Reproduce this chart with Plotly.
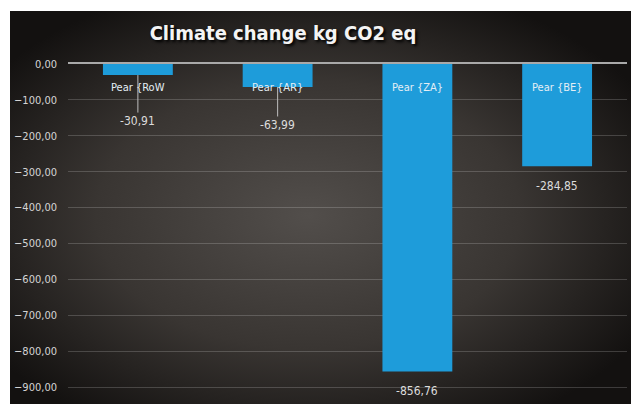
import base64
import plotly.graph_objects as go

categories = ["Pear {RoW", "Pear {AR}", "Pear {ZA}", "Pear {BE}"]
values = [-30.91, -63.99, -856.76, -284.85]
value_labels = ["-30,91", "-63,99", "-856,76", "-284,85"]
tick_vals = [0, -100, -200, -300, -400, -500, -600, -700, -800, -900]

FONT = "DejaVu Sans Condensed, Liberation Sans Narrow, sans-serif"

svg = """<svg xmlns='http://www.w3.org/2000/svg' width='621' height='393' preserveAspectRatio='none'>
<defs><radialGradient id='g' cx='48%' cy='52%' r='62%'>
<stop offset='0%' stop-color='#524e4b'/>
<stop offset='55%' stop-color='#393532'/>
<stop offset='100%' stop-color='#131110'/>
</radialGradient></defs>
<rect width='621' height='393' fill='url(#g)'/></svg>"""
src = "data:image/svg+xml;base64," + base64.b64encode(svg.encode()).decode()

fig = go.Figure()
fig.add_trace(go.Bar(
    x=categories, y=values,
    marker=dict(color="#1e9cda", line=dict(width=0)),
    hoverinfo="skip",
))

W, H = 631, 404
L, R, T, B = 68, 4, 64, 0
pw, ph = W - L - R, H - T - B

# category names near the top of each bar
for c in categories:
    fig.add_annotation(x=c, y=0, yshift=-23, text=c, showarrow=False,
                       yanchor="middle",
                       font=dict(family=FONT, size=11, color="#e4eef5"))

# value labels
offsets = [46, 38, None, None]
for c, v, t, off in zip(categories, values, value_labels, offsets):
    if off is not None:
        fig.add_annotation(x=c, y=v, text=t, showarrow=True, ax=0, ay=off,
                           arrowhead=0, arrowwidth=1, arrowcolor="#bdbdbd",
                           standoff=0,
                           font=dict(family=FONT, size=12, color="#dcdcdc"))
    else:
        fig.add_annotation(x=c, y=v, yshift=-20, text=t, showarrow=False,
                           yanchor="middle",
                           font=dict(family=FONT, size=12, color="#dcdcdc"))

fig.add_layout_image(dict(
    source=src, xref="paper", yref="paper",
    x=(10 - L) / pw, y=(H - 11) / ph,
    sizex=(W - 10) / pw, sizey=(H - 11) / ph,
    xanchor="left", yanchor="top", sizing="stretch", layer="below",
))

fig.update_layout(
    width=W, height=H,
    margin=dict(l=L, r=R, t=T, b=B, autoexpand=False),
    paper_bgcolor="white", plot_bgcolor="rgba(0,0,0,0)",
    separators=", ",
    showlegend=False,
    bargap=0.5,
    title=dict(text="Climate change kg CO2 eq", x=283 / W, xanchor="center",
               y=1 - 33 / H, yanchor="middle", yref="container",
               font=dict(family=FONT, size=20, color="#f4f4f4", weight="bold",
                         shadow="2px 2px 3px #000")),
    xaxis=dict(showticklabels=False, showgrid=False, side="top",
               showline=True, linecolor="#a9a9a9", linewidth=2,
               ticks="", fixedrange=True),
    yaxis=dict(range=[-ph / 0.3589, 0], tickvals=tick_vals, tickformat=".2f",
               showgrid=True, gridcolor="rgba(255,255,255,0.18)", gridwidth=1,
               zeroline=False, ticks="", ticklabelstandoff=10,
               tickfont=dict(family=FONT, size=11, color="#d4d4d4")),
)

fig.write_html("out.html")
